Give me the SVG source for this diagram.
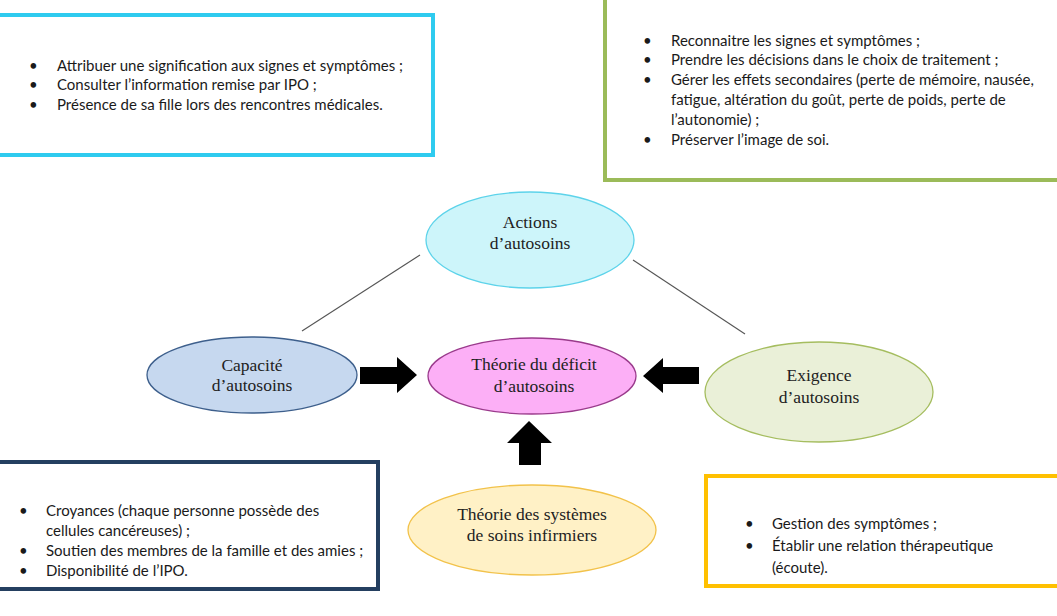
<svg xmlns="http://www.w3.org/2000/svg" width="1057" height="616" viewBox="0 0 1057 616">
<style>
.box{fill:#fff;stroke-width:4}
.bt{font-family:Lato,"Open Sans","Liberation Sans",sans-serif;font-size:15px;fill:#1a1a1a}
.et{font-family:"Liberation Serif","Times New Roman",serif;font-size:17.5px;fill:#222;text-anchor:middle}
.ell{stroke-width:1.3}
.arr{fill:#000}
.ln{stroke:#555;stroke-width:1.1;fill:none}
</style>
<rect width="1057" height="616" fill="#fff"/>

<g id="box-top-left">
<rect class="box" x="-4" y="15" width="437" height="140" stroke="#2ecbef"/>
<g class="bt">
<text x="29" y="71">•</text><text x="57" y="71">Attribuer une signification aux signes et symptômes ;</text>
<text x="29" y="90">•</text><text x="57" y="90">Consulter l’information remise par IPO ;</text>
<text x="29" y="110">•</text><text x="57" y="110">Présence de sa fille lors des rencontres médicales.</text>
</g>
</g>

<g id="box-top-right">
<rect class="box" x="605" y="-10" width="470" height="190" stroke="#9bbb59"/>
<g class="bt">
<text x="643" y="46">•</text><text x="671" y="46">Reconnaitre les signes et symptômes ;</text>
<text x="643" y="65">•</text><text x="671" y="65">Prendre les décisions dans le choix de traitement ;</text>
<text x="643" y="85">•</text><text x="671" y="85">Gérer les effets secondaires (perte de mémoire, nausée,</text>
<text x="671" y="105">fatigue, altération du goût, perte de poids, perte de</text>
<text x="671" y="125">l’autonomie) ;</text>
<text x="643" y="145">•</text><text x="671" y="145">Préserver l’image de soi.</text>
</g>
</g>

<g id="box-bottom-left">
<rect class="box" x="-4" y="462" width="382" height="127" stroke="#243f60"/>
<g class="bt">
<text x="19" y="516">•</text><text x="46" y="516">Croyances (chaque personne possède des</text>
<text x="46" y="536">cellules cancéreuses) ;</text>
<text x="19" y="556">•</text><text x="46" y="556">Soutien des membres de la famille et des amies ;</text>
<text x="19" y="576">•</text><text x="46" y="576">Disponibilité de l’IPO.</text>
</g>
</g>

<g id="box-bottom-right">
<rect class="box" x="706" y="476" width="370" height="110" stroke="#ffc000"/>
<g class="bt">
<text x="745" y="529">•</text><text x="772" y="529">Gestion des symptômes ;</text>
<text x="745" y="551">•</text><text x="772" y="551">Établir une relation thérapeutique</text>
<text x="772" y="573">(écoute).</text>
</g>
</g>

<g id="connectors">
<line class="ln" x1="302" y1="331" x2="420" y2="255"/>
<line class="ln" x1="633" y1="260" x2="745" y2="334"/>
<polygon class="arr" points="360,367 397,367 397,357 417,375 397,393 397,384 360,384"/>
<polygon class="arr" points="699,367 663,367 663,358 643,376 663,393 663,384 699,384"/>
<polygon class="arr" points="519,465 519,443 507,443 529,421 552,443 541,443 541,465"/>
</g>

<g id="node-actions">
<ellipse class="ell" cx="530" cy="240" rx="104" ry="48" fill="#cdf5fa" stroke="#5dd3ea"/>
<text class="et" x="530" y="228">Actions</text>
<text class="et" x="530" y="249">d’autosoins</text>
</g>

<g id="node-deficit">
<ellipse class="ell" cx="532" cy="376" rx="104" ry="38" fill="#fcaff6" stroke="#9a3a8c"/>
<text class="et" x="534" y="370">Théorie du déficit</text>
<text class="et" x="534" y="392">d’autosoins</text>
</g>

<g id="node-capacite">
<ellipse class="ell" cx="252" cy="375" rx="105" ry="38" fill="#c6d8ef" stroke="#3d5f8c"/>
<text class="et" x="252" y="371">Capacité</text>
<text class="et" x="252" y="391">d’autosoins</text>
</g>

<g id="node-exigence">
<ellipse class="ell" cx="819" cy="392" rx="114" ry="50" fill="#eaf0d8" stroke="#a5bd5f"/>
<text class="et" x="819" y="381">Exigence</text>
<text class="et" x="819" y="403">d’autosoins</text>
</g>

<g id="node-systemes">
<ellipse class="ell" cx="532" cy="530" rx="124" ry="45" fill="#fff1c6" stroke="#f2c24a"/>
<text class="et" x="532" y="520">Théorie des systèmes</text>
<text class="et" x="532" y="541">de soins infirmiers</text>
</g>
</svg>
